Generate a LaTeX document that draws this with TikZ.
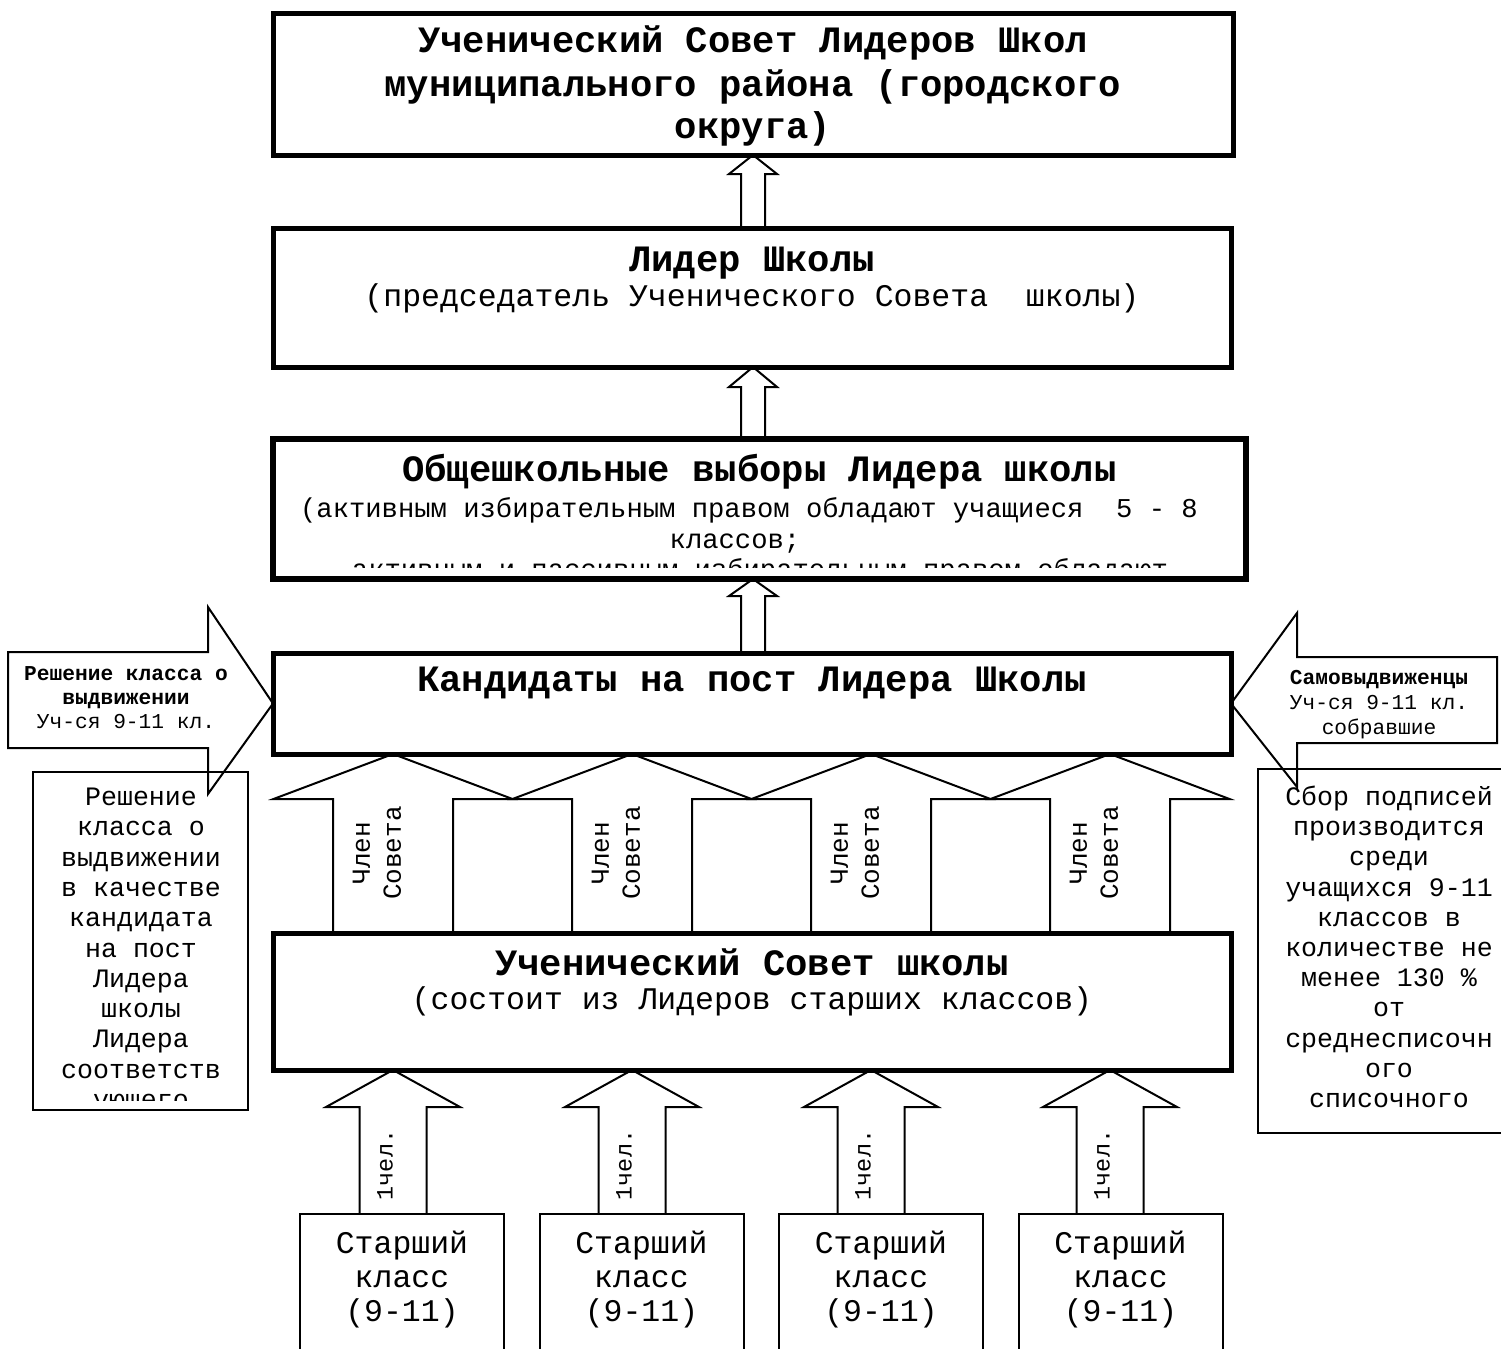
\documentclass[tikz,border=0pt]{standalone}
\usepackage{fontspec}
\setmainfont{Liberation Mono}
\usetikzlibrary{calc}
\pgfdeclarelayer{bg}
\pgfsetlayers{bg,main}
% block arrow pointing up: #1 tip coordinate, #2 base coordinate, #3 shaft half width, #4 head half width, #5 head height (px units)
\newcommand\UpArr[5]{\filldraw[blockarr] let \p1=(#1), \p2=(#2) in
  (\x1-#3*0.5pt,\y2) -- (\x1-#3*0.5pt,\y1-#5*0.5pt) -- (\x1-#4*0.5pt,\y1-#5*0.5pt) -- (\x1,\y1)
  -- (\x1+#4*0.5pt,\y1-#5*0.5pt) -- (\x1+#3*0.5pt,\y1-#5*0.5pt) -- (\x1+#3*0.5pt,\y2);}
\begin{document}
\begin{tikzpicture}[x=0.5pt,y=-0.5pt,
  heavy/.style={draw, line width=2.5pt, inner sep=0pt, outer sep=0pt},
  light/.style={draw, line width=1pt, inner sep=0pt, outer sep=0pt},
  blockarr/.style={draw, fill=white, line width=1pt, line join=miter},
  ttl/.style={font=\fontsize{18.6pt}{21.5pt}\selectfont\bfseries, inner sep=0pt, anchor=base},
  sub/.style={font=\fontsize{15.75pt}{18pt}\selectfont, inner sep=0pt, anchor=base},
  subs/.style={font=\fontsize{13.6pt}{16pt}\selectfont, inner sep=0pt, anchor=base},
  arrtxt/.style={font=\fontsize{10.6pt}{12pt}\selectfont, inner sep=0pt, anchor=base},
  arrttl/.style={font=\fontsize{10.6pt}{12pt}\selectfont\bfseries, inner sep=0pt, anchor=base},
  sidetxt/.style={font=\fontsize{13.3pt}{15pt}\selectfont, inner sep=0pt, anchor=base},
  memb/.style={font=\fontsize{13pt}{15.5pt}\selectfont, inner sep=0pt, rotate=90, align=center},
  onep/.style={font=\fontsize{11.7pt}{14pt}\selectfont, inner sep=0pt, rotate=90},
  clstxt/.style={font=\fontsize{15.75pt}{17pt}\selectfont, inner sep=0pt, anchor=base}]
\useasboundingbox (0,0) rectangle (1501,1349);

% main boxes
\node[heavy, minimum width=480pt, minimum height=71pt] (b1) at (753,84) {};
\node[heavy, minimum width=479pt, minimum height=69.5pt] (b2) at (752,297.5) {};
\node[heavy, line width=3pt, minimum width=486.5pt, minimum height=70pt] (b3) at (759.5,509) {};
\node[heavy, minimum width=479pt, minimum height=50.5pt] (b4) at (752,703.5) {};
\node[heavy, minimum width=479pt, minimum height=68.5pt] (b5) at (752,1001.5) {};

% side boxes
\node[light, minimum width=107.5pt, minimum height=169pt] (lb) at (140.5,941) {};
\node[light, minimum width=131pt, minimum height=182pt] (rb) at (1389,951) {};

% class boxes
\foreach \k in {0,...,3} {
  \pgfmathsetmacro\cx{402+239.5*\k}
  \node[light, minimum width=102pt, minimum height=95pt] (c\k) at (\cx,1309) {};
  \node[clstxt] (cs\k) at (\cx,1253) {Старший};
  \node[clstxt] (ck\k) at (\cx,1287) {класс};
  \node[clstxt] (cn\k) at (\cx,1321) {(9-11)};
}

% texts of main boxes
\node[ttl] (t1a) at (753,53) {Ученический Совет Лидеров Школ};
\node[ttl] (t1b) at (753,96) {муниципального района (городского};
\node[ttl] (t1c) at (753,138) {округа)};

\node[ttl] (t2a) at (752,271) {Лидер Школы};
\node[sub] (t2b) at (752,306.5) {(председатель Ученического Совета\ \ школы)};

\node[ttl] (t3a) at (759.5,481) {Общешкольные выборы Лидера школы};
\begin{scope}
  \clip (275,441) rectangle (1244,567);
  \node[subs] (t3b) at (749,517) {(активным избирательным правом обладают учащиеся\ \ 5 - 8};
  \node[subs] (t3c) at (735,548) {классов;};
  \node[subs] (t3d) at (760,578) {активным и пассивным избирательным правом обладают};
\end{scope}

\node[ttl] (t4a) at (752,691) {Кандидаты на пост Лидера Школы};

\node[ttl] (t5a) at (752,975) {Ученический Совет школы};
\node[sub] (t5b) at (752,1009.5) {(состоит из Лидеров старших классов)};

% side arrow texts
\node[arrttl] (la1) at (126,680.5) {Решение класса о};
\node[arrttl] (la2) at (126,704.5) {выдвижении};
\node[arrtxt] (la3) at (126,728.5) {Уч-ся 9-11 кл.};
\node[arrttl] (ra1) at (1379,684.5) {Самовыдвиженцы};
\node[arrtxt] (ra2) at (1379,709.5) {Уч-ся 9-11 кл.};
\node[arrtxt] (ra3) at (1379,734.5) {собравшие};

% side box texts
\begin{scope}
  \clip (34,773) rectangle (247,1100);
  \foreach \t [count=\i] in {Решение, класса о, выдвижении, в качестве, кандидата, на пост, Лидера, школы, Лидера, соответств, ующего} {
    \node[sidetxt] (lt\i) at (141,{805.5+30.3*(\i-1)}) {\t};
  }
\end{scope}
\foreach \t [count=\i] in {Сбор подписей, производится, среди, учащихся 9-11, классов в, количестве не, менее 130 \%, от, среднесписочн, ого, списочного} {
  \node[sidetxt] (rt\i) at (1389,{805.5+30.2*(\i-1)}) {\t};
}

% member arrow labels
\foreach \k in {0,...,3} {
  \pgfmathsetmacro\mx{377+239*\k}
  \pgfmathsetmacro\ox{385+239*\k}
  \node[memb] (m\k) at (\mx,853) {Член\\Совета};
  \node[onep] (o\k) at (\ox,1165) {1чел.};
}

% arrows (behind boxes)
\begin{pgfonlayer}{bg}
  \UpArr{b1.south}{b2.north}{12}{24}{19}
  \UpArr{753,0 |- b2.south}{b3.north}{12}{24}{20}
  \UpArr{753,0 |- b3.south}{b4.north}{12}{24}{17}
  \foreach \k in {0,...,3} {
    \pgfmathsetmacro\tx{393+239*\k}
    \UpArr{\tx,0 |- b4.south}{0,0 |- b5.north}{60}{119.5}{45}
    \UpArr{\tx,0 |- b5.south}{c\k.north}{33.5}{67}{37}
  }
  \filldraw[blockarr] (b4.west) -- (208,607) -- (208,652) -- (8,652) -- (8,748) -- (208,748) -- (208,794) -- cycle;
  \filldraw[blockarr] (b4.east) -- (1297,613) -- (1297,657) -- (1497,657) -- (1497,743) -- (1297,743) -- (1297,787) -- cycle;
\end{pgfonlayer}
\end{tikzpicture}
\end{document}
